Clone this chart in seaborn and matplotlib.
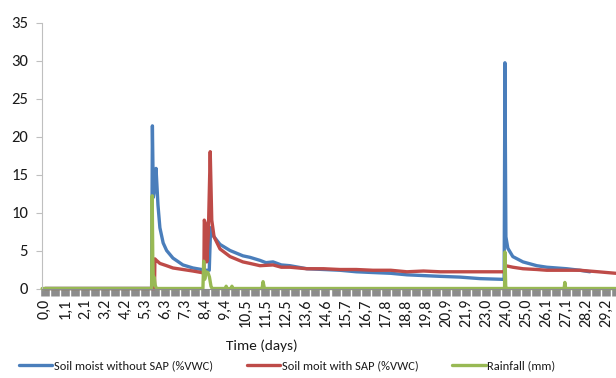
import matplotlib
matplotlib.use("Agg")
import matplotlib.pyplot as plt
from matplotlib import font_manager
from matplotlib.lines import Line2D
import seaborn as sns
import pandas as pd

# ---------------- data ----------------
blue_days = [0.0, 5.55, 5.59, 5.64, 5.70, 5.78, 5.88, 5.98, 6.15, 6.33, 6.66, 7.18, 7.70,
             8.15, 8.27, 8.55, 8.62, 8.74, 9.11, 9.63, 10.30, 10.67, 11.19, 11.50, 11.87,
             12.30, 12.75, 13.63, 14.50, 15.35, 16.20, 17.07, 18.00, 18.84, 19.70, 20.56,
             21.60, 22.64, 23.90, 23.94, 23.99, 24.09, 24.35, 24.88, 25.60, 26.12, 27.16,
             27.84, 28.36]
blue_vals = [0.0, 0.0, 21.4, 12.0, 13.0, 15.8, 11.0, 8.0, 6.0, 5.0, 4.0, 3.1, 2.7,
             2.5, 2.4, 2.4, 8.0, 7.0, 5.8, 5.0, 4.3, 4.1, 3.7, 3.4, 3.5,
             3.1, 3.0, 2.6, 2.5, 2.4, 2.2, 2.1, 2.0, 1.8, 1.7, 1.6,
             1.5, 1.3, 1.2, 29.7, 6.8, 5.3, 4.2, 3.5, 3.0, 2.8, 2.6,
             2.4, 2.2]

red_days = [0.0, 5.70, 5.72, 5.80, 5.98, 6.33, 6.66, 7.18, 7.70, 8.15, 8.27, 8.29, 8.36,
            8.42, 8.50, 8.60, 8.68, 8.80, 9.11, 9.63, 10.30, 10.67, 11.19, 11.87, 12.30,
            12.75, 13.63, 14.50, 15.35, 16.20, 17.07, 18.00, 18.84, 19.70, 20.56, 21.60,
            22.64, 23.90, 23.97, 24.35, 24.88, 25.60, 26.12, 27.00, 27.84, 28.80, 29.71]
red_vals = [0.0, 0.0, 3.9, 3.7, 3.3, 3.0, 2.7, 2.5, 2.3, 2.1, 2.0, 9.0, 8.5,
            3.5, 7.0, 18.0, 9.0, 6.8, 5.2, 4.2, 3.5, 3.3, 3.0, 3.1, 2.8,
            2.8, 2.6, 2.6, 2.5, 2.5, 2.4, 2.4, 2.2, 2.3, 2.2, 2.2,
            2.2, 2.2, 3.0, 2.8, 2.6, 2.5, 2.4, 2.4, 2.4, 2.2, 2.0]

rain_days = [-0.15, 5.55, 5.58, 5.61, 5.64, 5.68, 5.74, 5.80, 8.22, 8.26, 8.31, 8.38, 8.48,
             8.56, 8.64, 8.70, 9.40, 9.43, 9.46, 9.70, 9.73, 9.76, 11.30, 11.35, 11.42,
             23.92, 23.94, 23.98, 24.02, 27.02, 27.06, 27.10, 29.71]
rain_vals = [0.0, 0.0, 12.2, 4.0, 0.5, 1.5, 0.4, 0.0, 0.0, 3.6, 1.2, 2.2, 2.1,
             1.5, 0.3, 0.0, 0.0, 0.3, 0.0, 0.0, 0.3, 0.0, 0.0, 0.9, 0.0,
             0.0, 4.8, 0.3, 0.0, 0.0, 0.8, 0.0, 0.0]

tick_labels = ["0,0", "1,1", "2,1", "3,2", "4,2", "5,3", "6,3", "7,3", "8,4", "9,4",
               "10,5", "11,5", "12,5", "13,6", "14,6", "15,7", "16,7", "17,8", "18,8",
               "19,8", "20,9", "21,9", "23,0", "24,0", "25,0", "26,1", "27,1", "28,2", "29,2"]
y_ticks = [0, 5, 10, 15, 20, 25, 30, 35]

series_names = ["Soil moist without SAP (%VWC)", "Soil moit with SAP (%VWC)", "Rainfall (mm)"]
colors = ["#4a7ebb", "#be4b48", "#98b954"]

# ---------------- font ----------------
avail = {f.name for f in font_manager.fontManager.ttflist}
fam = "DejaVu Sans"
for cand in ["Carlito", "Lato", "Open Sans", "Noto Sans"]:
    if cand in avail:
        fam = cand
        break

sns.set_style("white")
plt.rcParams["font.family"] = [fam, "DejaVu Sans"]
text_color = "#1a1a1a"

fig = plt.figure(figsize=(6.16, 3.78), dpi=100)
ax = fig.add_axes([42 / 616, (378 - 288.5) / 378, (616 - 42) / 616, (288.5 - 22.5) / 378])

df_b = pd.DataFrame({"day": blue_days, "val": blue_vals})
df_r = pd.DataFrame({"day": red_days, "val": red_vals})
df_g = pd.DataFrame({"day": rain_days, "val": rain_vals})

lw = 2.4
for df, c in zip([df_b, df_r, df_g], colors):
    sns.lineplot(data=df, x="day", y="val", ax=ax, color=c, linewidth=lw,
                 estimator=None, sort=False, clip_on=False, solid_joinstyle="round")

step = 29.2 / 28
xmin = -3 / 20.04 * step
xmax = (616 - 45) / 20.04 * step
ax.set_xlim(xmin, xmax)
ax.set_ylim(0, 35)

major = [i * step for i in range(len(tick_labels))]
minor = [(i + 0.5) * step for i in range(len(tick_labels))]
ax.set_xticks(major)
ax.set_xticklabels(tick_labels, rotation=90, fontsize=11.5, color=text_color)
ax.set_xticks(minor, minor=True)
ax.tick_params(axis="x", which="both", direction="out", length=5, width=6.2,
               color="#8c8c8c", pad=2.5, bottom=True)
ax.set_yticks(y_ticks)
ax.set_yticklabels([str(v) for v in y_ticks], fontsize=12, color=text_color)
ax.tick_params(axis="y", direction="out", length=4, width=0.8, color="#bfbfbf",
               pad=6, left=True)

for s in ["top", "right"]:
    ax.spines[s].set_visible(False)
ax.spines["left"].set_color("#bfbfbf")
ax.spines["left"].set_linewidth(0.8)
ax.spines["bottom"].set_color("#8c8c8c")
ax.spines["bottom"].set_linewidth(0.8)
ax.set_xlabel("")
ax.set_ylabel("")
ax.grid(False)

fig.text(262 / 616, 1 - 346 / 378, "Time (days)", ha="center", va="center",
         fontsize=11, color=text_color)

handles = [Line2D([0], [0], color=c, linewidth=2.4) for c in colors]
fig.legend(handles, series_names, loc="center", bbox_to_anchor=(287 / 616, 1 - 366 / 378),
           ncol=3, frameon=False, fontsize=9, handlelength=2.7, handletextpad=0.12,
           columnspacing=2.7, labelcolor=text_color, borderpad=0.2)

fig.savefig("out.png", dpi=100)
